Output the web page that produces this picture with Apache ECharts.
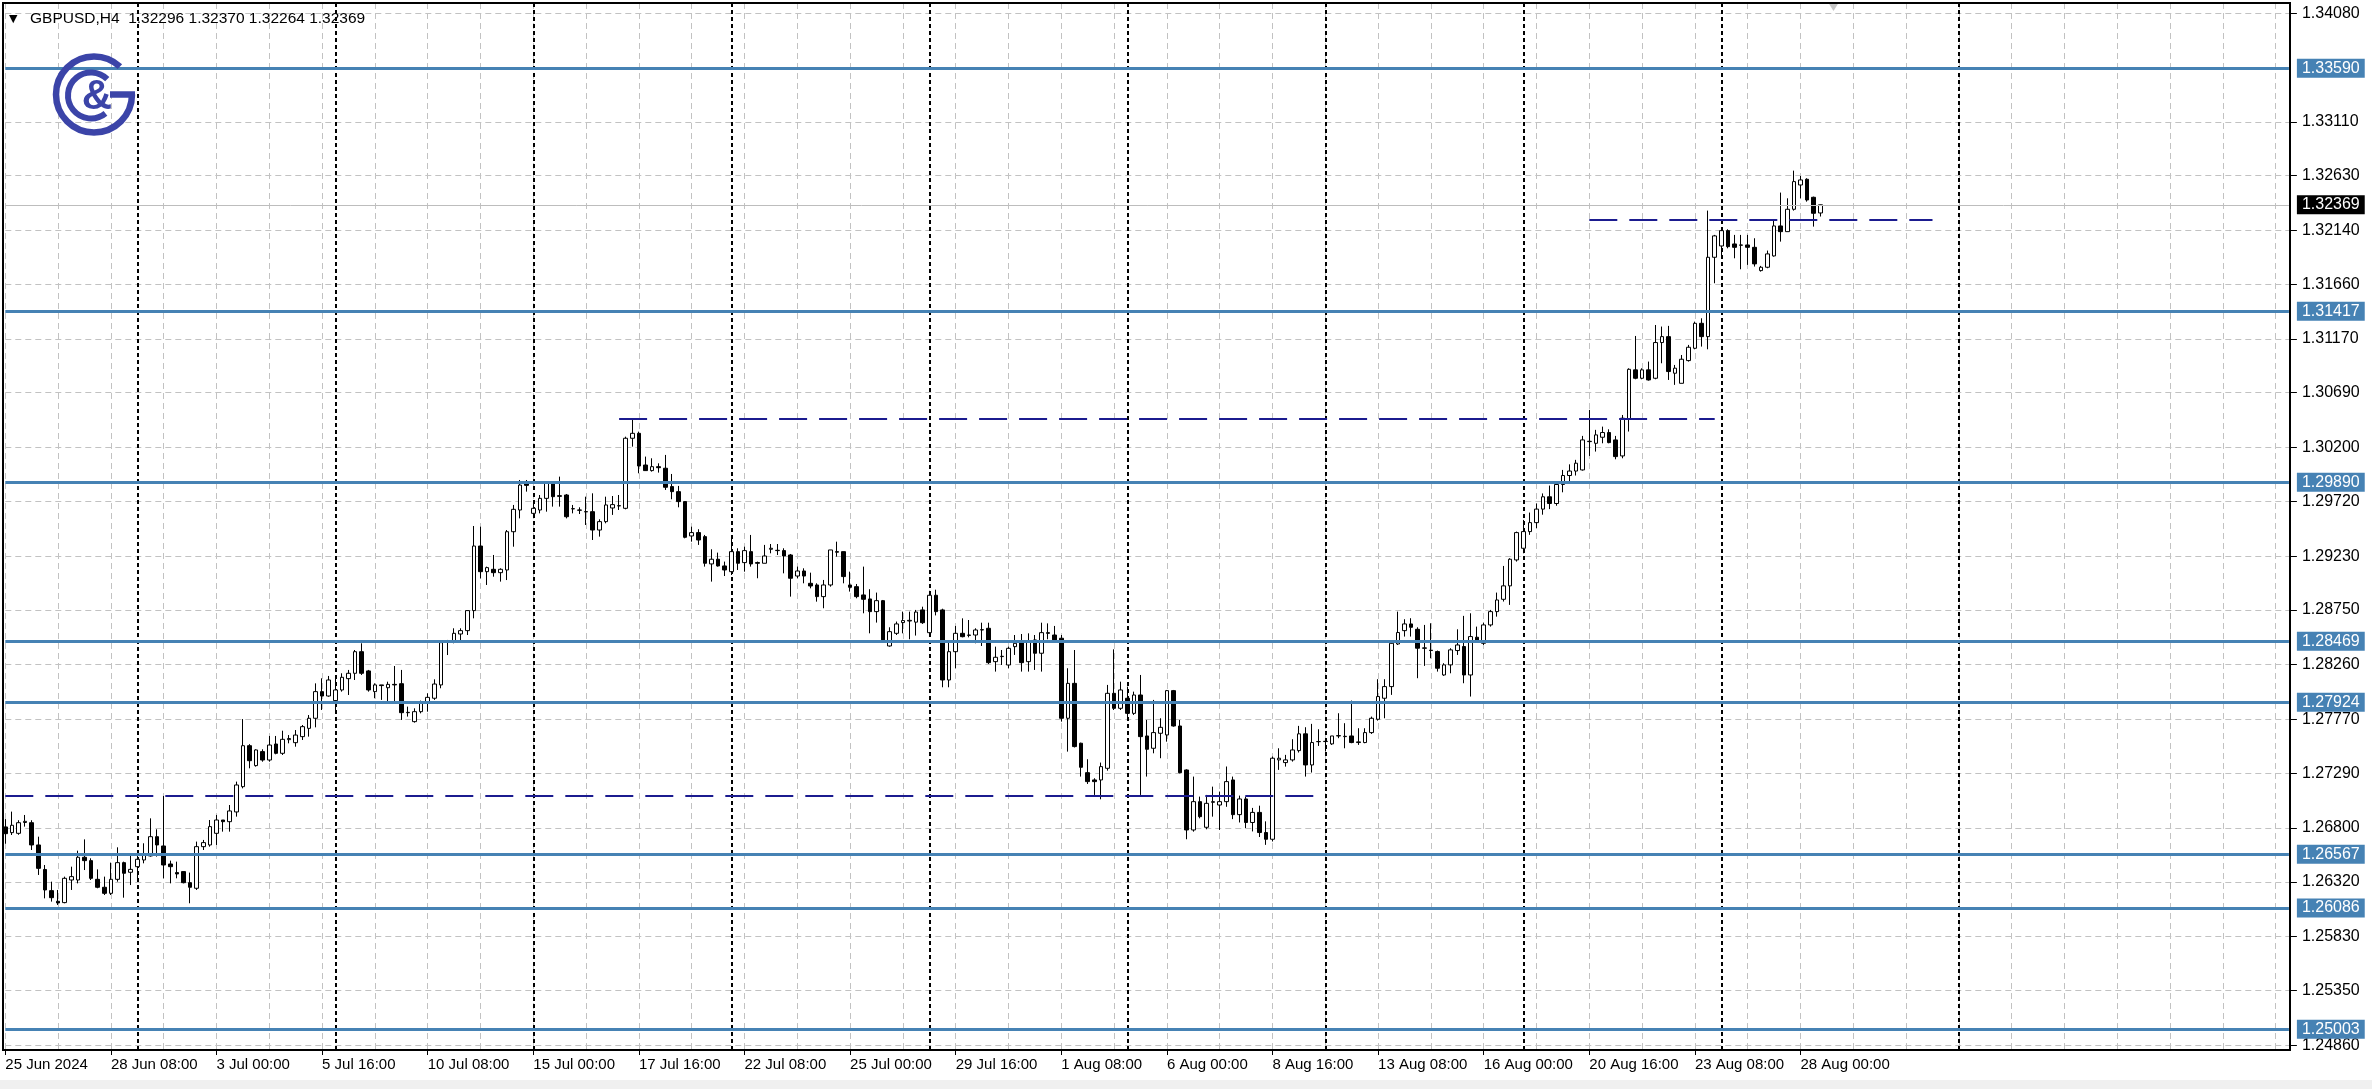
<!DOCTYPE html>
<html><head><meta charset="utf-8">
<script src="https://cdn.jsdelivr.net/npm/echarts@6/dist/echarts.min.js"></script>
<style>html,body{margin:0;padding:0;background:#fff;overflow:hidden}#c{width:2372px;height:1089px}</style>
</head><body><div id="c"></div>
<script>
// ---------- DATA ----------
const symbol = 'GBPUSD,H4';
// x tick labels, one every 16 H4 bars starting at bar 0
const xTickLabels = ['25 Jun 2024','28 Jun 08:00','3 Jul 00:00','5 Jul 16:00','10 Jul 08:00','15 Jul 00:00','17 Jul 16:00','22 Jul 08:00','25 Jul 00:00','29 Jul 16:00','1 Aug 08:00','6 Aug 00:00','8 Aug 16:00','13 Aug 08:00','16 Aug 00:00','20 Aug 16:00','23 Aug 08:00','28 Aug 00:00'];
const barsPerLabel = 16;
const gridEvery = 8;
const totalSlots = 347;           // bars + empty shift area
// period separators (bar index)
const separators = [20,50,80,110,140,170,200,230,260,296];
// chart shift marker (bar index)
const shiftMarkerBar = 277;
// price axis tick labels
const yTicks = [1.24860,1.25350,1.25830,1.26320,1.26800,1.27290,1.27770,1.28260,1.28750,1.29230,1.29720,1.30200,1.30690,1.31170,1.31660,1.32140,1.32630,1.33110,1.34080];
const yMin = 1.24817, yMax = 1.34172;
// support / resistance levels (blue)
const levels = [1.33590,1.31417,1.29890,1.28469,1.27924,1.26567,1.26086,1.25003];
const currentPrice = 1.32369;
// dashed horizontal segments [fromBar, toBar, price]
const dashedSegments = [[0,199,1.27093],[93,259,1.30453],[240,292,1.32236]];
// candles [open, high, low, close]
const ohlc = [
[1.26810,1.26880,1.26660,1.26750],[1.26759,1.26947,1.26738,1.26825],[1.26753,1.26870,1.26740,1.26848],[1.26850,1.26917,1.26813,1.26860],
[1.26848,1.26870,1.26604,1.26649],[1.26649,1.26723,1.26381,1.26440],[1.26430,1.26470,1.26172,1.26247],[1.26241,1.26321,1.26143,1.26178],
[1.26146,1.26247,1.26113,1.26131],[1.26134,1.26366,1.26128,1.26351],[1.26336,1.26455,1.26247,1.26366],[1.26336,1.26598,1.26306,1.26539],
[1.26539,1.26699,1.26425,1.26509],[1.26509,1.26530,1.26336,1.26351],[1.26342,1.26431,1.26262,1.26271],[1.26271,1.26366,1.26202,1.26217],
[1.26217,1.26491,1.26202,1.26342],[1.26342,1.26628,1.26321,1.26491],[1.26491,1.26500,1.26178,1.26396],[1.26405,1.26560,1.26291,1.26431],
[1.26455,1.26574,1.26351,1.26521],[1.26515,1.26664,1.26485,1.26560],[1.26551,1.26887,1.26545,1.26723],[1.26723,1.26789,1.26545,1.26649],
[1.26640,1.27087,1.26351,1.26470],[1.26479,1.26509,1.26306,1.26455],[1.26402,1.26500,1.26351,1.26390],[1.26411,1.26411,1.26306,1.26312],
[1.26312,1.26402,1.26128,1.26271],[1.26262,1.26679,1.26247,1.26634],[1.26634,1.26694,1.26604,1.26670],[1.26649,1.26872,1.26634,1.26813],
[1.26753,1.26917,1.26649,1.26872],[1.26872,1.26872,1.26768,1.26857],[1.26857,1.27006,1.26768,1.26953],[1.26944,1.27215,1.26902,1.27185],
[1.27170,1.27774,1.27155,1.27536],[1.27536,1.27550,1.27334,1.27402],[1.27358,1.27504,1.27349,1.27498],[1.27483,1.27504,1.27393,1.27408],
[1.27408,1.27623,1.27393,1.27542],[1.27551,1.27623,1.27459,1.27468],[1.27468,1.27670,1.27453,1.27593],[1.27590,1.27631,1.27557,1.27600],
[1.27563,1.27676,1.27527,1.27631],[1.27617,1.27721,1.27587,1.27706],[1.27691,1.27810,1.27617,1.27781],[1.27781,1.28093,1.27700,1.28019],
[1.28019,1.28138,1.27855,1.27980],[1.27980,1.28159,1.27974,1.28123],[1.27939,1.28153,1.27840,1.28034],[1.28034,1.28183,1.28019,1.28147],
[1.28135,1.28213,1.27989,1.28183],[1.28183,1.28391,1.28123,1.28376],[1.28376,1.28451,1.28168,1.28183],[1.28204,1.28213,1.28019,1.28034],
[1.28019,1.28093,1.27960,1.28079],[1.28079,1.28079,1.27945,1.28073],[1.28054,1.28108,1.27930,1.28084],[1.28084,1.28248,1.27915,1.28079],
[1.28090,1.28213,1.27766,1.27831],[1.27831,1.27885,1.27796,1.27834],[1.27751,1.27870,1.27742,1.27840],[1.27840,1.27939,1.27825,1.27930],
[1.27921,1.28004,1.27840,1.27968],[1.27960,1.28129,1.27945,1.28087],[1.28079,1.28475,1.28049,1.28457],[1.28460,1.28481,1.28346,1.28466],
[1.28466,1.28585,1.28451,1.28540],[1.28534,1.28585,1.28475,1.28564],[1.28564,1.28743,1.28525,1.28743],[1.28743,1.29499,1.28674,1.29320],
[1.29320,1.29493,1.29031,1.29091],[1.29091,1.29136,1.28972,1.29127],[1.29112,1.29240,1.29046,1.29082],[1.29082,1.29121,1.29002,1.29112],
[1.29106,1.29463,1.29016,1.29448],[1.29448,1.29687,1.29314,1.29648],[1.29642,1.29910,1.29567,1.29865],[1.29874,1.29910,1.29806,1.29862],
[1.29612,1.29701,1.29606,1.29657],[1.29642,1.29776,1.29612,1.29746],[1.29746,1.29895,1.29627,1.29880],[1.29880,1.29895,1.29672,1.29761],
[1.29770,1.29940,1.29672,1.29764],[1.29776,1.29785,1.29567,1.29582],[1.29654,1.29687,1.29612,1.29652],[1.29642,1.29666,1.29606,1.29640],
[1.29627,1.29761,1.29508,1.29625],[1.29627,1.29791,1.29374,1.29463],[1.29463,1.29559,1.29404,1.29538],[1.29538,1.29761,1.29523,1.29687],
[1.29660,1.29767,1.29598,1.29690],[1.29678,1.29776,1.29642,1.29681],[1.29657,1.30297,1.29648,1.30283],[1.30283,1.30452,1.30208,1.30327],
[1.30327,1.30342,1.29970,1.30035],[1.30044,1.30119,1.29991,1.29994],[1.29994,1.30104,1.29985,1.30029],[1.30029,1.30059,1.29976,1.30020],
[1.30015,1.30134,1.29821,1.29845],[1.29851,1.29964,1.29738,1.29806],[1.29806,1.29857,1.29666,1.29717],[1.29717,1.29717,1.29389,1.29398],
[1.29410,1.29493,1.29359,1.29440],[1.29440,1.29470,1.29330,1.29374],[1.29404,1.29419,1.29136,1.29166],[1.29160,1.29291,1.29002,1.29202],
[1.29202,1.29261,1.29136,1.29142],[1.29142,1.29181,1.29052,1.29106],[1.29091,1.29389,1.29061,1.29270],[1.29270,1.29300,1.29106,1.29166],
[1.29172,1.29314,1.29091,1.29279],[1.29270,1.29419,1.29136,1.29160],[1.29172,1.29181,1.29032,1.29166],[1.29166,1.29330,1.29166,1.29231],
[1.29291,1.29338,1.29255,1.29300],[1.29279,1.29338,1.29240,1.29282],[1.29279,1.29300,1.29076,1.29231],[1.29240,1.29249,1.28868,1.29032],
[1.29052,1.29136,1.29032,1.29097],[1.29097,1.29121,1.28987,1.29052],[1.28987,1.29082,1.28942,1.28963],[1.28972,1.28987,1.28823,1.28868],
[1.28868,1.29017,1.28764,1.28972],[1.28972,1.29285,1.28957,1.29285],[1.29270,1.29359,1.29225,1.29265],[1.29270,1.29270,1.28987,1.29047],
[1.28972,1.29091,1.28913,1.28951],[1.28957,1.28981,1.28853,1.28868],[1.28883,1.29136,1.28719,1.28844],[1.28847,1.28934,1.28540,1.28734],
[1.28734,1.28904,1.28636,1.28832],[1.28832,1.28838,1.28475,1.28481],[1.28427,1.28594,1.28421,1.28555],[1.28540,1.28645,1.28525,1.28624],
[1.28636,1.28734,1.28540,1.28654],[1.28650,1.28734,1.28487,1.28656],[1.28640,1.28749,1.28520,1.28730],[1.28749,1.28778,1.28624,1.28635],
[1.28546,1.28920,1.28530,1.28880],[1.28880,1.28930,1.28700,1.28734],[1.28749,1.28760,1.28058,1.28123],[1.28123,1.28466,1.28058,1.28376],
[1.28376,1.28606,1.28228,1.28540],[1.28540,1.28674,1.28504,1.28510],[1.28525,1.28659,1.28504,1.28522],[1.28525,1.28585,1.28451,1.28570],
[1.28570,1.28635,1.28427,1.28573],[1.28585,1.28635,1.28266,1.28278],[1.28287,1.28421,1.28198,1.28326],[1.28332,1.28391,1.28257,1.28335],
[1.28257,1.28421,1.28228,1.28406],[1.28421,1.28525,1.28347,1.28451],[1.28457,1.28534,1.28198,1.28278],[1.28287,1.28540,1.28198,1.28466],
[1.28481,1.28525,1.28213,1.28362],[1.28362,1.28635,1.28198,1.28546],[1.28546,1.28629,1.28487,1.28540],[1.28525,1.28606,1.28466,1.28481],
[1.28496,1.28525,1.27751,1.27781],[1.27781,1.28228,1.27483,1.28093],[1.28093,1.28391,1.27520,1.27528],[1.27558,1.27563,1.27260,1.27343],
[1.27295,1.27415,1.27194,1.27215],[1.27230,1.27245,1.27096,1.27215],[1.27230,1.27385,1.27057,1.27349],[1.27334,1.28079,1.27313,1.28004],
[1.28004,1.28397,1.27855,1.27870],[1.27870,1.28108,1.27855,1.28034],[1.27960,1.28064,1.27766,1.27825],[1.27825,1.28019,1.27811,1.27989],
[1.27989,1.28168,1.27096,1.27617],[1.27623,1.27766,1.27260,1.27504],[1.27513,1.27945,1.27468,1.27653],[1.27647,1.27781,1.27424,1.27700],
[1.27632,1.28034,1.27572,1.28028],[1.28028,1.28034,1.27706,1.27712],[1.27712,1.27766,1.27289,1.27295],[1.27319,1.27325,1.26700,1.26783],
[1.26783,1.27260,1.26768,1.27036],[1.27036,1.27081,1.26887,1.26902],[1.26807,1.27096,1.26789,1.27021],[1.27030,1.27170,1.26902,1.27036],
[1.27006,1.27126,1.26783,1.27036],[1.27036,1.27350,1.26990,1.27215],[1.27230,1.27260,1.26880,1.26920],[1.26920,1.27090,1.26850,1.27060],
[1.27060,1.27080,1.26800,1.26850],[1.26850,1.26980,1.26770,1.26940],[1.26940,1.27000,1.26720,1.26760],[1.26760,1.26860,1.26650,1.26700],
[1.26700,1.27439,1.26680,1.27424],[1.27409,1.27513,1.27320,1.27424],[1.27385,1.27454,1.27349,1.27409],[1.27409,1.27594,1.27394,1.27498],
[1.27492,1.27713,1.27475,1.27642],[1.27642,1.27701,1.27260,1.27364],[1.27364,1.27731,1.27296,1.27564],[1.27572,1.27683,1.27534,1.27573],
[1.27573,1.27588,1.27484,1.27575],[1.27552,1.27623,1.27543,1.27623],[1.27623,1.27826,1.27603,1.27626],[1.27617,1.27737,1.27513,1.27620],
[1.27623,1.27939,1.27558,1.27564],[1.27564,1.27692,1.27543,1.27570],[1.27564,1.27692,1.27558,1.27653],[1.27653,1.27796,1.27641,1.27781],
[1.27772,1.28130,1.27760,1.27975],[1.27960,1.28130,1.27781,1.28064],[1.28064,1.28466,1.27990,1.28451],[1.28445,1.28734,1.28436,1.28547],
[1.28564,1.28666,1.28511,1.28624],[1.28624,1.28675,1.28511,1.28594],[1.28576,1.28594,1.28139,1.28407],[1.28410,1.28615,1.28249,1.28407],
[1.28390,1.28630,1.28317,1.28386],[1.28377,1.28386,1.28198,1.28228],[1.28168,1.28273,1.28160,1.28258],[1.28258,1.28407,1.28183,1.28392],
[1.28386,1.28576,1.28347,1.28436],[1.28422,1.28696,1.28094,1.28168],[1.28168,1.28719,1.27975,1.28511],[1.28505,1.28600,1.28457,1.28466],
[1.28451,1.28636,1.28436,1.28615],[1.28615,1.28749,1.28600,1.28734],[1.28734,1.28904,1.28689,1.28838],[1.28844,1.29142,1.28824,1.28964],
[1.28964,1.29211,1.28794,1.29202],[1.29196,1.29449,1.29181,1.29440],[1.29300,1.29553,1.29255,1.29449],[1.29449,1.29619,1.29420,1.29529],
[1.29529,1.29700,1.29480,1.29650],[1.29650,1.29790,1.29600,1.29760],[1.29760,1.29860,1.29650,1.29700],[1.29700,1.29900,1.29680,1.29870],
[1.29870,1.30000,1.29800,1.29950],[1.29950,1.30050,1.29880,1.29990],[1.29990,1.30090,1.29950,1.30060],[1.30000,1.30304,1.29994,1.30268],
[1.30253,1.30536,1.30125,1.30256],[1.30238,1.30358,1.30164,1.30313],[1.30292,1.30387,1.30238,1.30334],[1.30334,1.30363,1.30238,1.30244],
[1.30268,1.30304,1.30095,1.30119],[1.30125,1.30491,1.30104,1.30462],[1.30453,1.30908,1.30343,1.30899],[1.30894,1.31197,1.30810,1.30819],
[1.30819,1.30908,1.30810,1.30894],[1.30894,1.30968,1.30798,1.30804],[1.30819,1.31295,1.30810,1.31138],[1.31138,1.31281,1.30953,1.31191],
[1.31191,1.31287,1.30804,1.30879],[1.30864,1.30938,1.30760,1.30909],[1.30774,1.31027,1.30774,1.30989],[1.30977,1.31117,1.30968,1.31096],
[1.31087,1.31325,1.31078,1.31310],[1.31310,1.31355,1.31102,1.31191],[1.31191,1.32317,1.31078,1.31900],[1.31900,1.32100,1.31668,1.32091],
[1.32001,1.32144,1.31906,1.32138],[1.32138,1.32150,1.31980,1.31995],[1.32019,1.32100,1.31891,1.31989],[1.32010,1.32100,1.31793,1.32008],
[1.32010,1.32100,1.31832,1.31989],[1.31989,1.32070,1.31817,1.31841],[1.31781,1.31823,1.31772,1.31811],[1.31811,1.31960,1.31802,1.31930],
[1.31912,1.32240,1.31906,1.32180],[1.32180,1.32478,1.32040,1.32129],[1.32129,1.32427,1.32129,1.32329],[1.32329,1.32674,1.32317,1.32576],
[1.32546,1.32627,1.32427,1.32591],[1.32597,1.32606,1.32397,1.32412],[1.32436,1.32442,1.32174,1.32293],[1.32296,1.32370,1.32264,1.32369]
];

// ---------- CHART ----------
const FONT = 'Liberation Sans';
const cats = Array.from({length: totalSlots}, (_, i) => String(i));
const candleData = ohlc.map(d => [d[0], d[3], d[2], d[1]]);
const labelShown = (i) => i % barsPerLabel === 0 && (i / barsPerLabel) < xTickLabels.length;
const last = ohlc[ohlc.length - 1];
const header = symbol + '  ' + [last[0], last[1], last[2], last[3]].map(v => v.toFixed(5)).join(' ');

const gridDash = {color: '#c2c2c2', type: [6, 4], width: 1};
const chart = echarts.init(document.getElementById('c'), null, {renderer: 'canvas'});
const logoColor = '#3b44a8';

chart.setOption({
  animation: false,
  backgroundColor: '#ffffff',
  grid: {left: 5.3, top: 3, width: (totalSlots - 1) * 6.6, bottom: 39, containLabel: false},
  xAxis: {
    type: 'category', data: cats, boundaryGap: false,
    axisLine: {show: false},
    axisTick: {show: true, interval: labelShown, length: 5, lineStyle: {color: '#000', width: 1}},
    axisLabel: {interval: labelShown, formatter: (v, i) => xTickLabels[i / barsPerLabel] || '',
      align: 'left', margin: 7, fontSize: 15, color: '#000', fontFamily: FONT},
    splitLine: {show: true, interval: (i) => i % gridEvery === 0, lineStyle: gridDash}
  },
  yAxis: {
    type: 'value', position: 'right', min: yMin, max: yMax,
    axisLine: {show: false},
    axisTick: {show: true, customValues: yTicks, length: 8, lineStyle: {color: '#000'}},
    axisLabel: {customValues: yTicks, formatter: v => v.toFixed(5), margin: 13, fontSize: 16, color: '#000', fontFamily: FONT},
    splitLine: {show: false}
  },
  series: [
    { // background grid + period separators
      type: 'line', data: [], z: 1, silent: true,
      markLine: {
        silent: true, symbol: ['none', 'none'], animation: false, z: 1, precision: 6,
        label: {show: false},
        data: yTicks.map(v => ({yAxis: v, lineStyle: gridDash}))
          .concat(separators.map(s => ({xAxis: s, lineStyle: {color: '#000', type: [4, 3], width: 2}})))
      }
    },
    {
      type: 'candlestick', data: candleData, z: 3, clip: false, barWidth: 4,
      itemStyle: {color: '#ffffff', color0: '#000000', borderColor: '#000000', borderColor0: '#000000', borderWidth: 1}
    },
    { // current price line
      type: 'line', data: [], z: 4, silent: true,
      markLine: {
        silent: true, symbol: ['none', 'none'], animation: false, z: 4, precision: 6,
        data: [{yAxis: currentPrice}],
        lineStyle: {color: '#bdbdbd', type: 'solid', width: 1},
        label: {show: true, position: 'end', distance: 8, formatter: p => Number(p.value).toFixed(5),
          backgroundColor: '#000', color: '#fff', padding: [2, 5, 1, 5], fontSize: 16, fontFamily: FONT}
      }
    },
    { // dashed segments
      type: 'line', data: [], z: 5, silent: true,
      markLine: {
        silent: true, symbol: ['none', 'none'], animation: false, z: 5, precision: 6,
        label: {show: false},
        lineStyle: {color: '#1b1b8f', type: [28, 12], width: 2},
        data: dashedSegments.map(s => [{coord: [s[0], s[2]]}, {coord: [s[1], s[2]]}])
      }
    },
    { // blue levels
      type: 'line', data: [], z: 6, silent: true,
      markLine: {
        silent: true, symbol: ['none', 'none'], animation: false, z: 6, precision: 6,
        data: levels.map(v => ({yAxis: v})),
        lineStyle: {color: '#4682b4', type: 'solid', width: 3},
        label: {show: true, position: 'end', distance: 8, formatter: p => Number(p.value).toFixed(5),
          backgroundColor: '#4682b4', color: '#fff', padding: [2, 5, 1, 5], fontSize: 16, fontFamily: FONT}
      }
    },
    { // chart shift marker at the top border
      type: 'scatter', z: 7, silent: true, symbol: 'triangle', symbolRotate: 180, symbolSize: [10, 8],
      symbolOffset: [0, 4], itemStyle: {color: '#b8b8b8'},
      data: [[String(shiftMarkerBar), yMax]]
    }
  ],
  graphic: [
    {type: 'rect', shape: {x: 3, y: 3, width: 2287, height: 1047}, style: {fill: null, stroke: '#000', lineWidth: 2}, silent: true, z: 10},
    {type: 'rect', shape: {x: 0, y: 1080, width: 2372, height: 9}, style: {fill: '#f0f0f0'}, silent: true, z: 10},
    {type: 'text', style: {text: '\u25BC', x: 9, y: 19, fill: '#000', font: '11px "DejaVu Sans"', verticalAlign: 'middle'}, z: 11},
    {type: 'text', style: {text: header, x: 30, y: 19, fill: '#000', font: '15.5px "' + FONT + '"', verticalAlign: 'middle'}, z: 11},
    {type: 'arc', shape: {cx: 94, cy: 94.5, r: 38, startAngle: 0, endAngle: 313 * Math.PI / 180, clockwise: true}, style: {fill: null, stroke: logoColor, lineWidth: 6.5}, z: 11},
    {type: 'line', shape: {x1: 110, y1: 94.5, x2: 135, y2: 94.5}, style: {stroke: logoColor, lineWidth: 6.5}, z: 11},
    {type: 'arc', shape: {cx: 91, cy: 95.5, r: 23, startAngle: 51 * Math.PI / 180, endAngle: 315 * Math.PI / 180, clockwise: true}, style: {fill: null, stroke: logoColor, lineWidth: 6}, z: 11},
    {type: 'text', style: {text: '&', x: 97, y: 97, fill: logoColor, font: 'bold 42px "' + FONT + '"', align: 'center', verticalAlign: 'middle'}, z: 11}
  ]
});
</script></body></html>
